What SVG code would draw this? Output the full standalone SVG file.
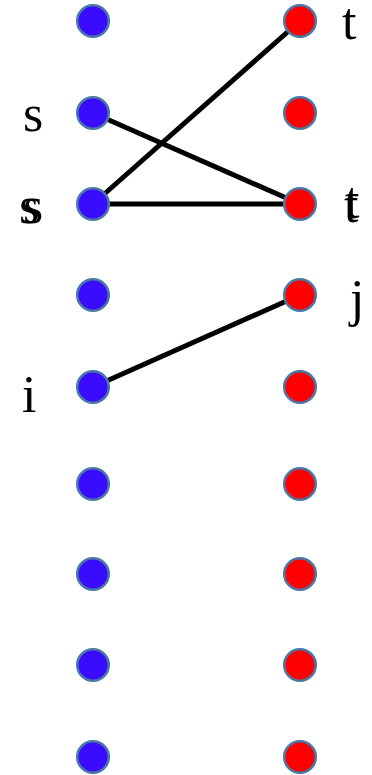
<svg xmlns="http://www.w3.org/2000/svg" width="372" height="775" viewBox="0 0 372 775">
<style>
.l{fill:#3a0cff;stroke:#4a78a6;stroke-width:2.5}
.r{fill:#ff0000;stroke:#4a78a6;stroke-width:2.5}
.e{stroke:#000;stroke-width:5;fill:none}
text{font-family:"Liberation Serif","Times New Roman",serif;font-size:52px;fill:#000}
</style>
<rect width="372" height="775" fill="#fff"/>
<g id="connectors">
<line class="e" x1="93" y1="113" x2="300" y2="204"/>
<line class="e" x1="93" y1="204" x2="300" y2="21"/>
<line class="e" x1="93" y1="204" x2="300" y2="204"/>
<line class="e" x1="93" y1="387" x2="300" y2="295"/>
</g>
<g id="left">
<g id="l0"><circle class="l" cx="93" cy="21" r="15.8"/></g>
<g id="l1"><circle class="l" cx="93" cy="113" r="15.8"/></g>
<g id="l2"><circle class="l" cx="93" cy="204" r="15.8"/></g>
<g id="l3"><circle class="l" cx="93" cy="295" r="15.8"/></g>
<g id="l4"><circle class="l" cx="93" cy="387" r="15.8"/></g>
<g id="l5"><circle class="l" cx="93" cy="484" r="15.8"/></g>
<g id="l6"><circle class="l" cx="93" cy="574" r="15.8"/></g>
<g id="l7"><circle class="l" cx="93" cy="665" r="15.8"/></g>
<g id="l8"><circle class="l" cx="93" cy="757" r="15.8"/></g>
</g>
<g id="right">
<g id="r0"><circle class="r" cx="300" cy="21" r="15.8"/></g>
<g id="r1"><circle class="r" cx="300" cy="113" r="15.8"/></g>
<g id="r2"><circle class="r" cx="300" cy="204" r="15.8"/></g>
<g id="r3"><circle class="r" cx="300" cy="295" r="15.8"/></g>
<g id="r4"><circle class="r" cx="300" cy="387" r="15.8"/></g>
<g id="r5"><circle class="r" cx="300" cy="484" r="15.8"/></g>
<g id="r6"><circle class="r" cx="300" cy="574" r="15.8"/></g>
<g id="r7"><circle class="r" cx="300" cy="665" r="15.8"/></g>
<g id="r8"><circle class="r" cx="300" cy="757" r="15.8"/></g>
</g>
<g id="labels">
<text x="23" y="131">s</text>
<text x="19" y="223">s</text>
<text x="23" y="223">s</text>
<text x="342" y="39">t</text>
<text x="344" y="222">t</text>
<text x="345" y="218">t</text>
<text x="350" y="316">j</text>
<text x="22" y="412">i</text>
</g>
</svg>
